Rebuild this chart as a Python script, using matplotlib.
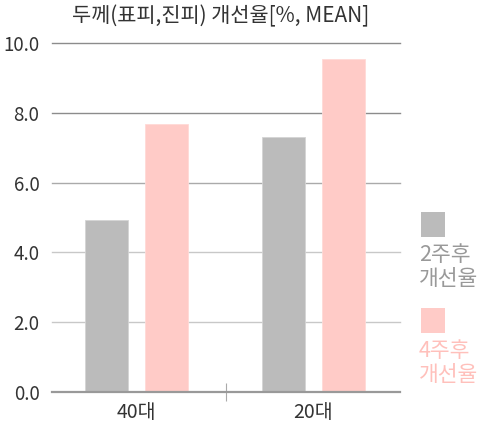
import matplotlib
matplotlib.use("Agg")
import matplotlib.pyplot as plt
from matplotlib.patches import Rectangle
import numpy as np

plt.rcParams['font.family'] = ['Noto Sans CJK KR', 'DejaVu Sans']

categories = ['40대', '20대']
week2 = [4.93, 7.32]
week4 = [7.67, 9.54]
series_labels = ['2주후\n개선율', '4주후\n개선율']
yticks = [0, 2, 4, 6, 8, 10]
title = '두께(표피,진피) 개선율[%, MEAN]'

gray = '#bbbbbb'
pink = '#ffcbc7'

fig = plt.figure(figsize=(4.79, 4.34), dpi=100)
ax = fig.add_axes([52/479, 1 - 392/434, 348/479, 349/434])

x = np.arange(len(categories))
w = 0.243
ax.bar(x - 0.168, week2, width=w, color=gray, edgecolor='#d4d4d4', linewidth=0.6, zorder=3)
ax.bar(x + 0.168, week4, width=w, color=pink, edgecolor='#ffdad7', linewidth=0.6, zorder=3)

ax.set_xlim(-0.477, 1.489)
ax.set_ylim(0, 10)

grid_colors = {2: '#c8c8c8', 4: '#c8c8c8', 6: '#aaaaaa', 8: '#8c8c8c', 10: '#8c8c8c'}
for yv in yticks[1:]:
    ax.axhline(yv, color=grid_colors[yv], linewidth=1.0, zorder=1, clip_on=False)

for s in ['top', 'right', 'left']:
    ax.spines[s].set_visible(False)
ax.spines['bottom'].set_color('#999999')
ax.spines['bottom'].set_linewidth(1.6)
ax.spines['bottom'].set_zorder(4)

ax.set_yticks(yticks)
ax.set_yticklabels([f'{v:.1f}' for v in yticks], fontsize=13.5, color='#333333')
ax.tick_params(axis='y', length=0, pad=9)

ax.set_xticks(x)
ax.set_xticklabels(categories, fontsize=14, color='#333333')
ax.tick_params(axis='x', which='major', length=0, pad=7)
ax.set_xticks([0.506], minor=True)
ax.tick_params(axis='x', which='minor', length=13, direction='inout', color='#aaaaaa', width=0.8)

fig.text(221/479, 1 - 16/434, title, fontsize=15, color='#333333', ha='center', va='center')

# legend
leg_colors = [gray, pink]
leg_text_colors = ['#999999', '#ffc0bb']
sq_tops = [212, 308]
for c, tc, top, lab in zip(leg_colors, leg_text_colors, sq_tops, series_labels):
    fig.add_artist(Rectangle((421/479, 1 - (top + 25)/434), 24/479, 25/434,
                             transform=fig.transFigure, facecolor=c, edgecolor='none'))
    fig.text(419/479, 1 - (top + 32)/434, lab, fontsize=15.5, color=tc,
             ha='left', va='top', linespacing=1.1)

fig.savefig('out.png', dpi=100)
